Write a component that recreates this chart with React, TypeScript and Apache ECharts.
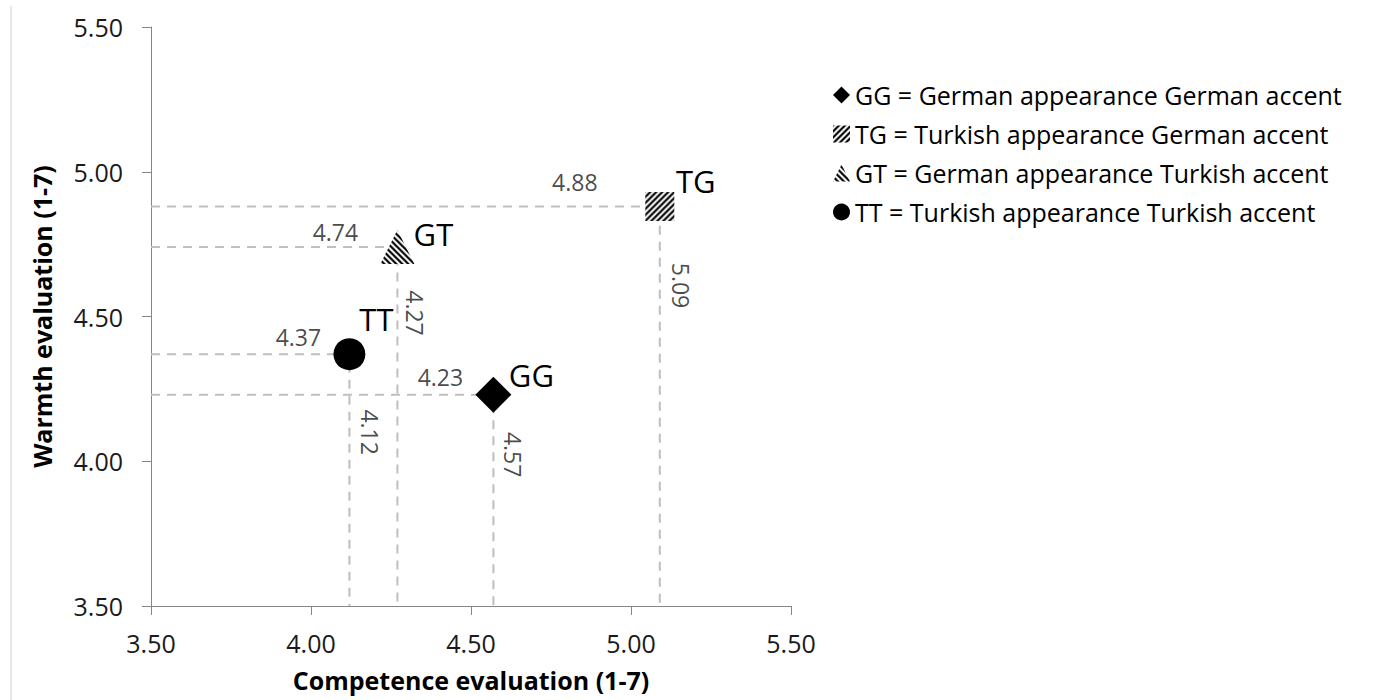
import React, { useEffect, useRef } from "react";
import * as echarts from "echarts";

// ---- data ----
const groups = ["GG", "TG", "GT", "TT"];
const legendLabels = [
  "GG = German appearance German accent",
  "TG = Turkish appearance German accent",
  "GT = German appearance Turkish accent",
  "TT = Turkish appearance Turkish accent",
];
const competence = [4.57, 5.09, 4.27, 4.12];
const warmth = [4.23, 4.88, 4.74, 4.37];
const AXIS_MIN = 3.5;
const AXIS_MAX = 5.5;
const AXIS_STEP = 0.5;

// ---- styles ----
const symbols = ["diamond", "rect", "triangle", "circle"];
const symbolSizes = [36, 29, 34, 32];
const hatchDirs = [0, 1, -1, 0];
const nameOffsets = [[38, -20], [36, -25], [36, -13], [27, -35]];
const warmthOffsets = [[-53, -18], [-85, -24], [-62, -15], [-51, -17]];
const competenceOffsets = [[20, 60], [21, 79], [18, 66], [21, 78]];
const FONT = "'Open Sans', 'DejaVu Sans', sans-serif";

function hatchCanvas(dir: number) {
  const c = document.createElement("canvas");
  c.width = 6;
  c.height = 6;
  const g = c.getContext("2d")!;
  g.fillStyle = "#fff";
  g.fillRect(0, 0, 6, 6);
  g.strokeStyle = "#000";
  g.lineWidth = 2.2;
  g.beginPath();
  if (dir > 0) {
    g.moveTo(-1, 7); g.lineTo(7, -1);
    g.moveTo(-1, 1); g.lineTo(1, -1);
    g.moveTo(5, 7); g.lineTo(7, 5);
  } else {
    g.moveTo(-1, -1); g.lineTo(7, 7);
    g.moveTo(5, -1); g.lineTo(7, 1);
    g.moveTo(-1, 5); g.lineTo(1, 7);
  }
  g.stroke();
  return c;
}

// rotated label (-90deg): offset is rotated with the text, convert screen offset
function rotOffset(o: number[]) {
  return [o[1], -o[0]];
}

export default function App() {
  const ref = useRef<HTMLDivElement>(null);
  useEffect(() => {
    if (!ref.current) return;
    const chart = echarts.init(ref.current, undefined, { renderer: "svg" });

    const markerFill = (i: number) => {
      if (!hatchDirs[i]) return "#000";
      const s = 2 / symbolSizes[i];
      return { image: hatchCanvas(hatchDirs[i]), repeat: "repeat", scaleX: s, scaleY: s } as any;
    };
    const legendFill = (i: number) => {
      if (!hatchDirs[i]) return "#000";
      return { image: hatchCanvas(hatchDirs[i]), repeat: "repeat" } as any;
    };

    const series: any[] = [];
    groups.forEach((g, i) => {
      series.push({
        type: "line",
        silent: true,
        z: 1,
        symbol: "none",
        data: [
          [AXIS_MIN, warmth[i]],
          [competence[i], warmth[i]],
          [competence[i], AXIS_MIN],
        ],
        lineStyle: { color: "#bfbfbf", width: 2, type: [9, 7] },
      });
    });
    groups.forEach((g, i) => {
      series.push({
        type: "scatter",
        name: legendLabels[i],
        z: 3,
        symbol: symbols[i],
        symbolSize: symbolSizes[i],
        itemStyle: { color: markerFill(i), opacity: 1 },
        data: [[competence[i], warmth[i]]],
        label: {
          show: true,
          position: "inside",
          offset: nameOffsets[i],
          formatter: g,
          fontFamily: FONT,
          fontSize: 31,
          color: "#000",
        },
      });
    });
    series.push({
      type: "scatter",
      z: 4,
      silent: true,
      symbolSize: 0,
      data: groups.map((g, i) => ({
        value: [competence[i], warmth[i]],
        label: { offset: warmthOffsets[i] },
      })),
      label: {
        show: true,
        position: "inside",
        formatter: (p: any) => p.value[1].toFixed(2),
        fontFamily: FONT,
        fontSize: 23,
        color: "#1a1a1a",
      },
    });
    series.push({
      type: "scatter",
      z: 4,
      silent: true,
      symbolSize: 0,
      data: groups.map((g, i) => ({
        value: [competence[i], warmth[i]],
        label: { offset: rotOffset(competenceOffsets[i]) },
      })),
      label: {
        show: true,
        position: "inside",
        rotate: -90,
        formatter: (p: any) => p.value[0].toFixed(2),
        fontFamily: FONT,
        fontSize: 23,
        color: "#1a1a1a",
      },
    });

    const axisCommon = {
      type: "value",
      min: AXIS_MIN,
      max: AXIS_MAX,
      interval: AXIS_STEP,
      nameLocation: "middle",
      nameTextStyle: { fontFamily: FONT, fontSize: 25, fontWeight: "bold", color: "#000" },
      axisLine: { show: true, lineStyle: { color: "#868686", width: 1 } },
      axisTick: { show: true, inside: false, length: 9, lineStyle: { color: "#868686" } },
      splitLine: { show: false },
      axisLabel: {
        fontFamily: FONT,
        fontSize: 25,
        color: "#1a1a1a",
        formatter: (v: number) => v.toFixed(2),
      },
    };

    chart.setOption({
      animation: false,
      backgroundColor: "#fff",
      grid: { left: 151, right: 582, top: 27, bottom: 94, containLabel: false },
      xAxis: {
        ...axisCommon,
        name: "Competence evaluation (1-7)",
        nameGap: 61,
        axisLabel: { ...axisCommon.axisLabel, margin: 24 },
      },
      yAxis: {
        ...axisCommon,
        name: "Warmth evaluation (1-7)",
        nameGap: 97,
        axisLabel: { ...axisCommon.axisLabel, margin: 28 },
      },
      legend: {
        orient: "vertical",
        left: 828,
        top: 76,
        itemWidth: 17,
        itemHeight: 17,
        itemGap: 11,
        data: legendLabels.map((name, i) => ({
          name,
          itemStyle: { color: legendFill(i) },
        })),
        textStyle: { fontFamily: FONT, fontSize: 25, color: "#000", lineHeight: 28 },
      },
      graphic: [
        {
          type: "line",
          shape: { x1: 11, y1: 6, x2: 11, y2: 700 },
          style: { stroke: "#d0d0d0", lineWidth: 1 },
          silent: true,
        },
      ],
      series,
    });
    return () => chart.dispose();
  }, []);
  return (
    <div
      ref={ref}
      style={{ position: "fixed", left: 0, top: 0, width: 1373, height: 700, background: "#fff" }}
    />
  );
}
